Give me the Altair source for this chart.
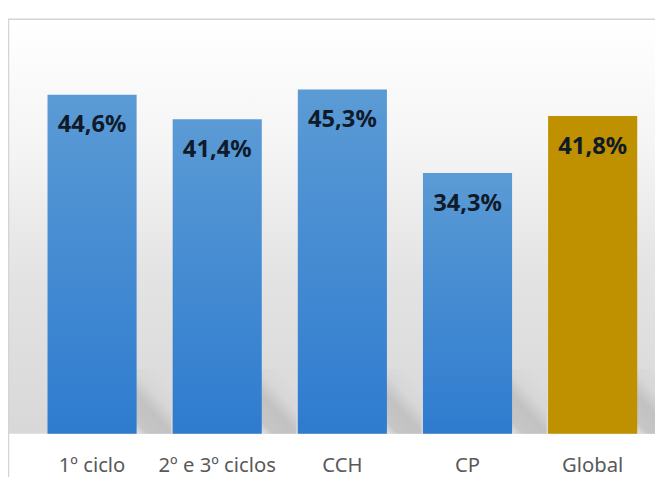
import altair as alt
import pandas as pd

categorias = ["1º ciclo", "2º e 3º ciclos", "CCH", "CP", "Global"]
valores = [44.6, 41.4, 45.3, 34.3, 41.8]
rotulos = ["44,6%", "41,4%", "45,3%", "34,3%", "41,8%"]
tipo = ["parcial", "parcial", "parcial", "parcial", "global"]

df = pd.DataFrame({"cat": categorias, "val": valores, "lab": rotulos, "tipo": tipo})

W, H = 655, 428

xscale = alt.Scale(domain=categorias, range=[40, 637], paddingInner=0.288, paddingOuter=0)
yscale = alt.Scale(domain=[0, 50], range=[428, 43.5])

x = alt.X("cat:N", scale=xscale, sort=categorias,
          axis=alt.Axis(title=None, domain=False, ticks=False, labelAngle=0,
                        labelFont="Noto Sans", labelFontSize=20.5, labelColor="#595959",
                        labelPadding=22))
y = alt.Y("val:Q", scale=yscale, axis=None)

bg = alt.Chart(pd.DataFrame({"a": [0]})).mark_rect(
    fill=alt.Gradient(gradient="linear",
                      stops=[alt.GradientStop(color="#ffffff", offset=0),
                             alt.GradientStop(color="#f5f5f5", offset=0.3),
                             alt.GradientStop(color="#e3e3e3", offset=0.62),
                             alt.GradientStop(color="#d8d8d8", offset=1)],
                      x1=0, x2=0, y1=0, y2=1),
    stroke=None
).encode(x=alt.value(1), x2=alt.value(W), y=alt.value(9), y2=alt.value(428))

border = alt.Chart(pd.DataFrame({"a": [0]})).mark_rect(
    fill=None, stroke="#d4d4d4", strokeWidth=1.5
).encode(x=alt.value(0.5), x2=alt.value(W + 20), y=alt.value(8.5), y2=alt.value(H + 80))

base = alt.Chart(df)

shadow = base.transform_calculate(s0="0", s1="8.5").mark_bar(
    xOffset=62, width=36,
    fill=alt.Gradient(gradient="linear",
                      stops=[alt.GradientStop(color="#dcdcdc", offset=0),
                             alt.GradientStop(color="#d7d7d7", offset=0.3),
                             alt.GradientStop(color="#c2c2c2", offset=0.55),
                             alt.GradientStop(color="#c6c6c6", offset=0.85),
                             alt.GradientStop(color="#e6e6e6", offset=1)],
                      x1=0.6, x2=0, y1=0, y2=1)
).encode(x=x, y=alt.Y("s1:Q", scale=yscale, axis=None), y2="s0:Q")

blue = base.transform_filter("datum.tipo == 'parcial'").mark_bar(
    fill=alt.Gradient(gradient="linear",
                      stops=[alt.GradientStop(color="#5b9bd5", offset=0),
                             alt.GradientStop(color="#2e7bcf", offset=1)],
                      x1=0, x2=0, y1=0, y2=1)
).encode(x=x, y=y)

gold = base.transform_filter("datum.tipo == 'global'").mark_bar(
    color="#bf9000"
).encode(x=x, y=y)

text = base.mark_text(
    font="Noto Sans", fontWeight="bold", fontSize=24, color="#0f1a2a",
    baseline="middle", dy=31
).encode(x=x, y=y, text="lab:N")

chart = alt.layer(bg, border, shadow, blue, gold, text).properties(
    width=W, height=H, autosize=alt.AutoSizeParams(type="none"),
    padding={"left": 0, "top": 0, "right": 0, "bottom": 41}
).configure_view(stroke=None)

chart.save("out.html", embed_options={"renderer": "svg", "actions": False})
